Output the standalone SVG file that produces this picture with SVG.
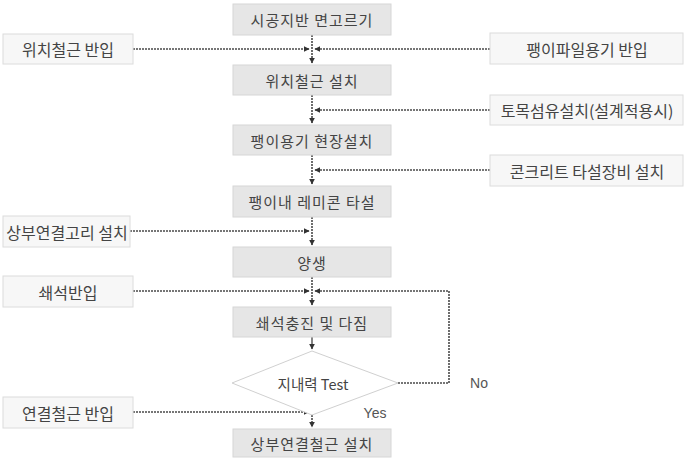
<svg xmlns="http://www.w3.org/2000/svg" width="686" height="460" viewBox="0 0 686 460">
<defs>
<style>
.main rect{fill:#e6e6e6;stroke:#d6d6d6;stroke-width:1}
.side rect{fill:#f7f7f7;stroke:#dcdcdc;stroke-width:1}
text{font-family:"Noto Sans CJK KR","Malgun Gothic","Noto Sans",sans-serif;fill:#444;text-anchor:middle;dominant-baseline:central}
.main text{font-size:15px;letter-spacing:1px}
.side text{font-size:16px}
.lbl{font-family:"Liberation Sans","Noto Sans",sans-serif;font-size:14px;fill:#555}
.c{fill:none;stroke:#4a4a4a;stroke-width:1.6;stroke-dasharray:2 1}
.s{fill:none;stroke:#444;stroke-width:1.3}
</style>
<marker id="ah" viewBox="0 0 10 10" refX="9" refY="5" markerWidth="6" markerHeight="6" orient="auto" markerUnits="userSpaceOnUse"><path d="M0,0 L10,5 L0,10 z" fill="#333"/></marker>
</defs>
<rect width="686" height="460" fill="#fff"/>
<g id="connectors">
<path class="c" d="M312,35 V63" marker-end="url(#ah)"/>
<path class="c" d="M133,49 H309" marker-end="url(#ah)"/>
<path class="c" d="M490,49 H315" marker-end="url(#ah)"/>
<path class="c" d="M312,95 V123" marker-end="url(#ah)"/>
<path class="c" d="M490,110 H315" marker-end="url(#ah)"/>
<path class="c" d="M312,155 V184" marker-end="url(#ah)"/>
<path class="c" d="M490,170 H315" marker-end="url(#ah)"/>
<path class="c" d="M312,217 V245" marker-end="url(#ah)"/>
<path class="c" d="M130,231 H309" marker-end="url(#ah)"/>
<path class="c" d="M312,277 V305" marker-end="url(#ah)"/>
<path class="c" d="M133,291 H309" marker-end="url(#ah)"/>
<path class="c" d="M398,383 H449 V291 H315" marker-end="url(#ah)"/>
<path class="s" d="M312,337 V349" marker-end="url(#ah)"/>
<path class="c" d="M312,415 V427" marker-end="url(#ah)"/>
<path class="c" d="M133,412 H309" marker-end="url(#ah)"/>
</g>
<g id="n1" class="main"><rect x="233" y="4" width="158" height="31"/><text x="312" y="19.5">시공지반 면고르기</text></g>
<g id="n2" class="main"><rect x="233" y="65" width="158" height="30"/><text x="312" y="80">위치철근 설치</text></g>
<g id="n3" class="main"><rect x="233" y="125" width="158" height="30"/><text x="312" y="140">팽이용기 현장설치</text></g>
<g id="n4" class="main"><rect x="233" y="186" width="158" height="31"/><text x="312" y="201.5">팽이내 레미콘 타설</text></g>
<g id="n5" class="main"><rect x="233" y="247" width="158" height="30"/><text x="312" y="262">양생</text></g>
<g id="n6" class="main"><rect x="233" y="307" width="158" height="30"/><text x="312" y="322">쇄석충진 및 다짐</text></g>
<g id="n7"><polygon points="312,351 398,383 312,415 232,383" fill="#fff" stroke="#d0d0d0" stroke-width="1"/><text x="313" y="383" style="font-size:14.5px">지내력 Test</text></g>
<g id="n8" class="main"><rect x="233" y="429" width="158" height="28"/><text x="312" y="443">상부연결철근 설치</text></g>
<g id="s1" class="side"><rect x="3" y="34" width="130" height="30"/><text x="68" y="49">위치철근 반입</text></g>
<g id="s2" class="side"><rect x="3" y="216" width="127" height="31"/><text x="67" y="231.5">상부연결고리 설치</text></g>
<g id="s3" class="side"><rect x="3" y="276" width="130" height="31"/><text x="68" y="291.5">쇄석반입</text></g>
<g id="s4" class="side"><rect x="3" y="397" width="130" height="31"/><text x="68" y="412.5">연결철근 반입</text></g>
<g id="s5" class="side"><rect x="490" y="33" width="193" height="31"/><text x="587" y="48.5">팽이파일용기 반입</text></g>
<g id="s6" class="side"><rect x="490" y="95" width="193" height="30"/><text x="587" y="110">토목섬유설치(설계적용시)</text></g>
<g id="s7" class="side"><rect x="490" y="155" width="193" height="31"/><text x="587" y="170.5">콘크리트 타설장비 설치</text></g>
<text class="lbl" x="479" y="383">No</text>
<text class="lbl" x="375" y="413">Yes</text>
</svg>
